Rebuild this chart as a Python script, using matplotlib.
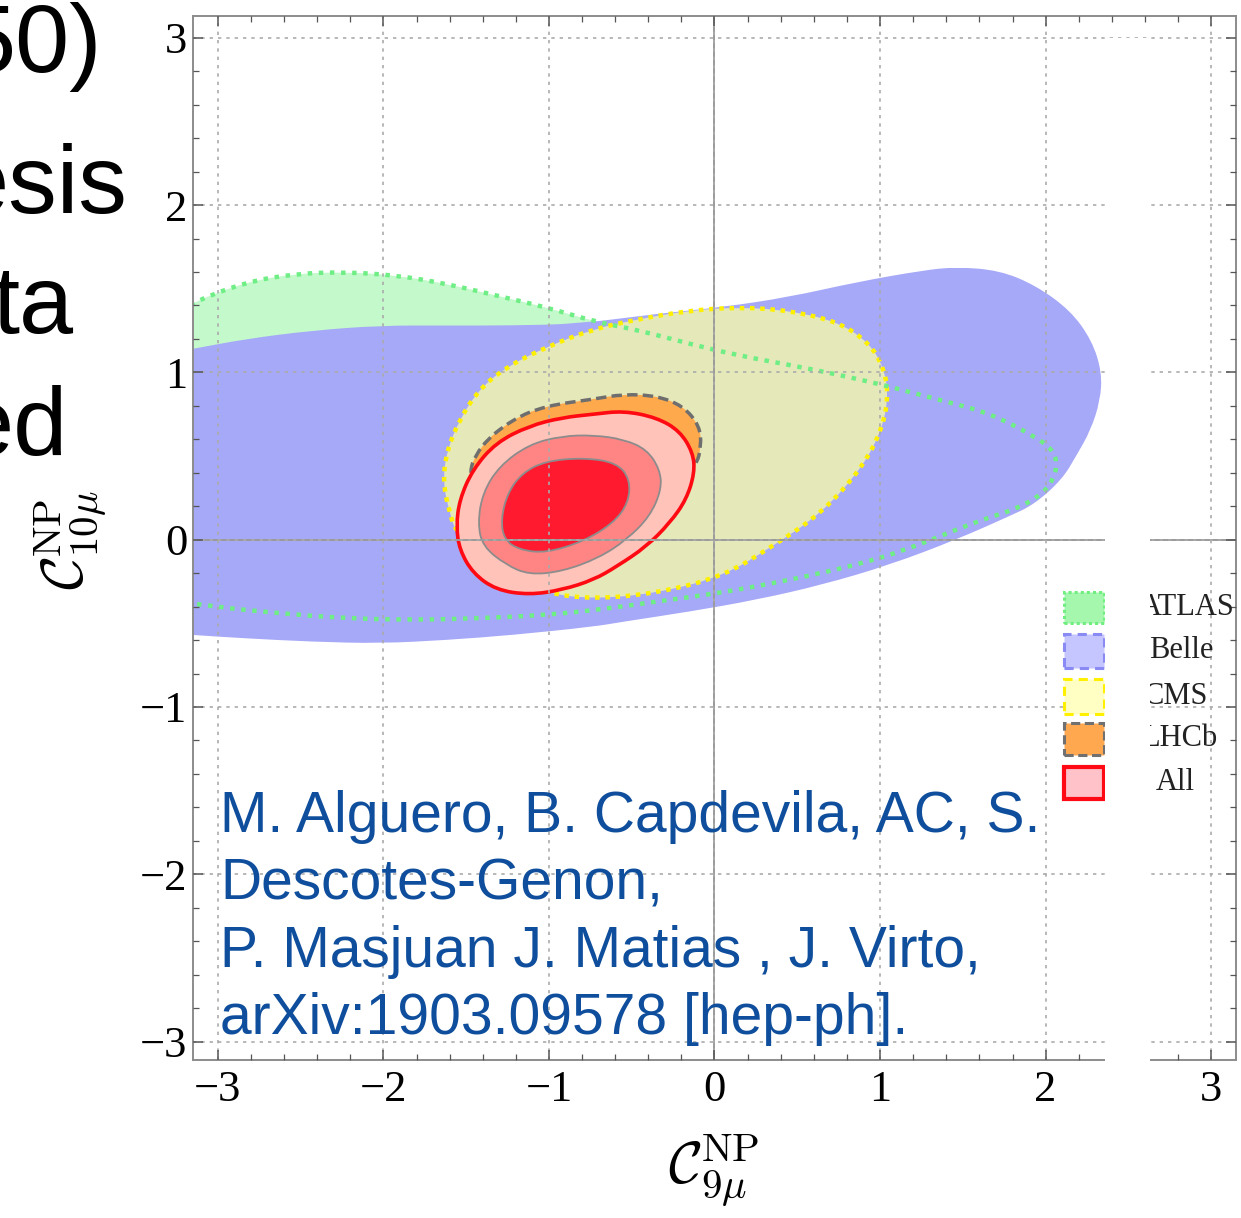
import numpy as np
import matplotlib
matplotlib.use("Agg")
import matplotlib.pyplot as plt
from matplotlib.path import Path
from matplotlib.patches import PathPatch, Rectangle

plt.rcParams['mathtext.fontset'] = 'cm'

# region boundaries (C9, C10)
atlas_x = [-3.35, -3.15, -2.83, -2.53, -2.23, -1.92, -1.62, -1.32, -1.02, -0.71, -0.45, -0.15, 0.15, 0.45,
           0.755, 1.06, 1.36, 1.66, 1.93, 2.04, 2.07, 2.05, 1.99, 1.84, 1.62, 1.46, 1.16, 0.86, 0.55, 0.25,
           -0.05, -0.35, -0.71, -1.02, -1.42, -1.82, -2.23, -2.63, -3.03, -3.35]
atlas_y = [1.30, 1.42, 1.54, 1.59, 1.60, 1.58, 1.53, 1.46, 1.39, 1.30, 1.25, 1.17, 1.10, 1.045,
           0.985, 0.915, 0.835, 0.757, 0.62, 0.54, 0.46, 0.37, 0.28, 0.19, 0.12, 0.06, -0.06, -0.15, -0.22, -0.28,
           -0.33, -0.37, -0.42, -0.45, -0.47, -0.48, -0.47, -0.44, -0.40, -0.35]

belle_x = [-3.4, -3.15, -2.83, -2.43, -2.02, -1.62, -1.22, -0.82, -0.35, 0.05, 0.45, 0.86, 1.26, 1.46,
           1.72, 1.94, 2.15, 2.28, 2.34, 2.33, 2.27, 2.19, 2.10, 1.93, 1.78, 1.46, 1.06, 0.65, 0.25, -0.15,
           -0.55, -0.73, -1.22, -1.62, -2.02, -2.43, -2.83, -3.15, -3.4]
belle_y = [1.10, 1.14, 1.20, 1.25, 1.28, 1.28, 1.28, 1.29, 1.35, 1.39, 1.45, 1.54, 1.61, 1.63,
           1.61, 1.52, 1.37, 1.19, 1.00, 0.83, 0.65, 0.51, 0.36, 0.21, 0.14, 0.0, -0.15, -0.27, -0.36, -0.43,
           -0.49, -0.52, -0.57, -0.60, -0.62, -0.61, -0.59, -0.57, -0.55]

cms_x = [-1.56, -1.60, -1.64, -1.62, -1.54, -1.42, -1.26, -1.02, -0.73, -0.45, -0.15, 0.15, 0.45, 0.755,
         0.94, 1.02, 1.05, 1.02, 0.90, 0.65, 0.35, 0.05, -0.35, -0.73, -1.02, -1.30]
cms_y = [0.04, 0.16, 0.34, 0.52, 0.72, 0.90, 1.03, 1.15, 1.26, 1.32, 1.37, 1.39, 1.37, 1.30,
         1.17, 1.03, 0.88, 0.68, 0.44, 0.16, -0.04, -0.22, -0.32, -0.355, -0.32, -0.20]

lhcb_x = [-1.50, -1.42, -1.22, -1.02, -0.73, -0.55, -0.35, -0.19, -0.09, -0.08, -0.11, -0.35, -0.8, -1.3]
lhcb_y = [0.36, 0.56, 0.72, 0.80, 0.84, 0.87, 0.86, 0.80, 0.68, 0.56, 0.44, 0.10, 0.0, 0.10]

all3_x = [-1.56, -1.54, -1.46, -1.32, -1.12, -0.92, -0.73, -0.55, -0.35, -0.21, -0.13, -0.12, -0.17, -0.27,
          -0.41, -0.59, -0.73, -0.92, -1.12, -1.32, -1.46, -1.54]
all3_y = [0.08, 0.24, 0.42, 0.58, 0.68, 0.73, 0.75, 0.77, 0.73, 0.65, 0.52, 0.40, 0.24, 0.10,
          -0.04, -0.16, -0.24, -0.30, -0.33, -0.30, -0.20, -0.06]

all2_x = [-1.43, -1.40, -1.30, -1.12, -0.92, -0.73, -0.55, -0.41, -0.33, -0.32, -0.39, -0.53, -0.70, -0.92,
          -1.12, -1.26, -1.40]
all2_y = [0.10, 0.28, 0.44, 0.57, 0.62, 0.625, 0.60, 0.54, 0.42, 0.30, 0.14, 0.0, -0.11, -0.19,
          -0.21, -0.15, -0.04]

all1_x = [-1.29, -1.25, -1.16, -1.02, -0.79, -0.59, -0.51, -0.52, -0.61, -0.79, -1.02, -1.18, -1.27]
all1_y = [0.12, 0.28, 0.40, 0.47, 0.49, 0.46, 0.36, 0.22, 0.10, -0.01, -0.08, -0.06, 0.0]

legend_labels = ["ATLAS", "Belle", "CMS", "LHCb", "All"]
authors = ["M. Alguero, B. Capdevila, AC, S.", "Descotes-Genon,",
           "P. Masjuan J. Matias , J. Virto,", "arXiv:1903.09578 [hep-ph]."]
slide_words = ["50)", "esis", "ta", "ed"]


def smooth_path(xs, ys):
    pts = np.column_stack([xs, ys])
    mids = (pts + np.roll(pts, -1, axis=0)) / 2
    verts = [mids[-1]]
    codes = [Path.MOVETO]
    for i in range(len(pts)):
        verts += [pts[i], mids[i]]
        codes += [Path.CURVE3, Path.CURVE3]
    verts.append(mids[-1])
    codes.append(Path.CLOSEPOLY)
    return Path(verts, codes)


W, H = 1241, 1218
fig = plt.figure(figsize=(W / 100, H / 100), dpi=100)


def fx(px):
    return px / W


def fy(py):
    return 1 - py / H


ax = fig.add_axes([fx(193), fy(1060), fx(1236) - fx(193), fy(16) - fy(1060)])
ax.set_xlim(-3.15, 3.15)
ax.set_ylim(-3.11, 3.13)

ax.add_patch(PathPatch(smooth_path(atlas_x, atlas_y), fc='#C4F9CB', ec='none', zorder=1))
ax.add_patch(PathPatch(smooth_path(belle_x, belle_y), fc='#A6A8F8', ec='none', zorder=1.1))
ax.add_patch(PathPatch(smooth_path(cms_x, cms_y), fc='#E5E8B8', ec='none', zorder=1.2))
ax.add_patch(PathPatch(smooth_path(cms_x, cms_y), fc='none', ec='#FFF000', lw=3.2,
                       ls=(0, (1, 1.3)), zorder=1.3))
ax.add_patch(PathPatch(smooth_path(atlas_x, atlas_y), fc='none', ec='#6EEE84', lw=3.2,
                       ls=(0, (1, 1.5)), zorder=1.35))
ax.add_patch(PathPatch(smooth_path(lhcb_x, lhcb_y), fc='#FFA94D', ec='#6E6E6E', lw=2.5,
                       ls=(0, (3, 1.5)), zorder=1.4))
ax.add_patch(PathPatch(smooth_path(all3_x, all3_y), fc='#FFC3BA', ec='#FF0A12', lw=2.6, zorder=1.5))
ax.add_patch(PathPatch(smooth_path(all2_x, all2_y), fc='#FF8585', ec='#8C8C8C', lw=1.3, zorder=1.6))
ax.add_patch(PathPatch(smooth_path(all1_x, all1_y), fc='#FF1A30', ec='#8C8C8C', lw=1.3, zorder=1.7))

ax.set_axisbelow(False)
ax.set_xticks(np.arange(-3, 4))
ax.set_yticks(np.arange(-3, 4))
ax.set_xticks(np.arange(-3.0, 3.01, 0.2), minor=True)
ax.set_yticks(np.arange(-3.0, 3.01, 0.2), minor=True)
ax.grid(which='major', color='#ABABAB', lw=1.2, ls=(0, (2, 3)), zorder=2)
ax.axhline(0, color='#9A9A9A', lw=1.4, zorder=2.1)
ax.axvline(0, color='#9A9A9A', lw=1.4, zorder=2.1)

ax.tick_params(which='both', direction='in', top=True, right=True, colors='#555555',
               labelcolor='black', labelsize=32)
ax.tick_params(axis='y', pad=4)
ax.tick_params(axis='x', pad=7)
ax.tick_params(which='major', length=7, width=1.1)
ax.tick_params(which='minor', length=4, width=0.9)
for lab in ax.get_xticklabels() + ax.get_yticklabels():
    lab.set_family('Liberation Serif')
for s in ax.spines.values():
    s.set_color('#8C8C8C')
    s.set_linewidth(1.4)

fig.text(fx(714), fy(1170), r'$\mathcal{C}_{9\mu}^{\rm NP}$', fontsize=42, ha='center', va='center')
fig.text(fx(70), fy(540), r'$\mathcal{C}_{10\mu}^{\rm NP}$', fontsize=42, ha='center', va='center',
         rotation=90)

# legend
sw_top = [592, 634, 679, 723, 767]
sw_h = [31, 34, 35, 32, 32]
sw_fc = ['#A6F7AE', '#C5C5FF', '#FFFFC4', '#FFA850', '#FFC2C8']
sw_ec = ['#70EE80', '#8A8AF5', '#FFF000', '#707070', '#FF0A14']
sw_ls = [(0, (1, 1)), (0, (3, 2)), (0, (3, 2)), (0, (3, 1.5)), '-']
sw_lw = [2.2, 2.2, 2.2, 2.2, 3.0]
lab_x = [1187, 1181, 1176, 1179, 1175]
for i, lab in enumerate(legend_labels):
    fig.patches.append(Rectangle((fx(1064), fy(sw_top[i] + sw_h[i])), fx(1104) - fx(1064),
                                 fy(sw_top[i]) - fy(sw_top[i] + sw_h[i]), transform=fig.transFigure,
                                 fc=sw_fc[i], ec=sw_ec[i], ls=sw_ls[i], lw=sw_lw[i], zorder=3))
    fig.text(fx(lab_x[i]), fy(sw_top[i] + sw_h[i] / 2), lab, fontsize=22, family='Liberation Serif',
             ha='center', va='center', color='#222222', zorder=3)

# white strip of the slide covering part of the plot
fig.patches.append(Rectangle((fx(1105), 0), fx(1150) - fx(1105), fy(38), transform=fig.transFigure,
                             fc='white', ec='none', zorder=10))

for i, line in enumerate(authors):
    fig.text(fx(220), fy(832 + 67.5 * i), line, fontsize=41, family='Liberation Sans',
             color='#0E4E9C', ha='left', va='baseline', zorder=11)

word_right = [102, 128, 74, 68]
word_base = [72, 213, 333, 455]
for w, r, b in zip(slide_words, word_right, word_base):
    fig.text(fx(r), fy(b), w, fontsize=70, family='Liberation Sans', color='black',
             ha='right', va='baseline', zorder=11)

fig.savefig('out.png', dpi=100)
